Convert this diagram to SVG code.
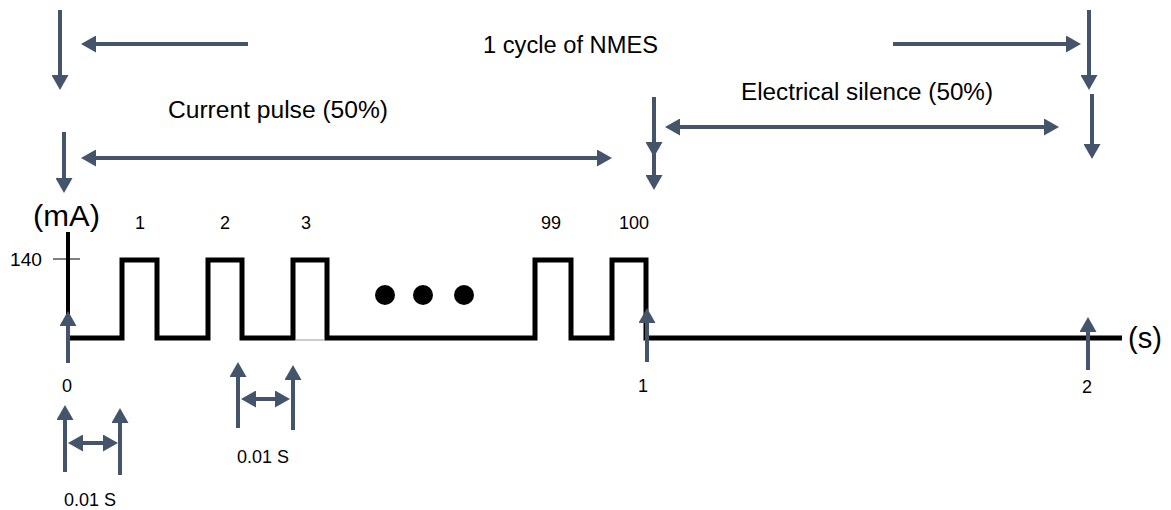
<svg xmlns="http://www.w3.org/2000/svg" width="1171" height="510" viewBox="0 0 1171 510">
<style>
.a{stroke:#44546A;stroke-width:4;fill:none}
.t{font-family:"Liberation Sans",Arial,sans-serif;fill:#000}
.big{font-size:23px}
.num{font-size:18px}
.unit{font-size:30px}
.w{stroke:#000;stroke-width:5;fill:none;stroke-linejoin:miter}
</style>
<defs>
<marker id="h" markerUnits="userSpaceOnUse" markerWidth="17" markerHeight="17" viewBox="0 0 15 17" refX="1" refY="8.5" orient="auto-start-reverse">
<path d="M0,0 L15,8.5 L0,17 z" fill="#44546A"/>
</marker>
</defs>
<rect width="1171" height="510" fill="#fff"/>
<g id="waveform">
<line x1="68" y1="232" x2="68" y2="338" stroke="#000" stroke-width="4"/>
<line x1="53" y1="259" x2="80" y2="259" stroke="#000" stroke-width="1"/>
<path class="w" d="M70,338 H122 V260 H157 V338 H208 V260 H242 V338 H293 V260 H327 V338 H535 V260 H571 V338 H612 V260 H646 V338 H1122"/>
<line x1="296" y1="340" x2="325" y2="340" stroke="#999" stroke-width="1"/>
<circle cx="385" cy="295" r="10" fill="#000"/>
<circle cx="423" cy="295" r="10" fill="#000"/>
<circle cx="464" cy="295" r="10" fill="#000"/>
</g>
<g id="connectors">
<line class="a" x1="60" y1="10" x2="60" y2="76" marker-end="url(#h)"/>
<line class="a" x1="248" y1="44" x2="95" y2="44" marker-end="url(#h)"/>
<line class="a" x1="893" y1="44" x2="1067" y2="44" marker-end="url(#h)"/>
<line class="a" x1="1089" y1="10" x2="1089" y2="76" marker-end="url(#h)"/>
<line class="a" x1="1092" y1="94" x2="1092" y2="145" marker-end="url(#h)"/>
<line class="a" x1="64" y1="132" x2="64" y2="179" marker-end="url(#h)"/>
<line class="a" x1="95" y1="158" x2="598" y2="158" marker-start="url(#h)" marker-end="url(#h)"/>
<polyline class="a" points="654,97 654,143 654,176" marker-mid="url(#h)" marker-end="url(#h)"/>
<line class="a" x1="679" y1="127" x2="1045" y2="127" marker-start="url(#h)" marker-end="url(#h)"/>
<line class="a" x1="68" y1="363" x2="68" y2="325" marker-end="url(#h)"/>
<line class="a" x1="647" y1="362" x2="647" y2="322" marker-end="url(#h)"/>
<line class="a" x1="1088" y1="370" x2="1088" y2="331" marker-end="url(#h)"/>
<line class="a" x1="65" y1="472" x2="65" y2="419" marker-end="url(#h)"/>
<line class="a" x1="120" y1="475" x2="120" y2="422" marker-end="url(#h)"/>
<line class="a" x1="82" y1="443" x2="104" y2="443" marker-start="url(#h)" marker-end="url(#h)"/>
<line class="a" x1="238" y1="428" x2="238" y2="376" marker-end="url(#h)"/>
<line class="a" x1="293" y1="430" x2="293" y2="379" marker-end="url(#h)"/>
<line class="a" x1="255" y1="399" x2="276" y2="399" marker-start="url(#h)" marker-end="url(#h)"/>
</g>
<g id="labels">
<text class="t big" x="483" y="53" textLength="175" lengthAdjust="spacingAndGlyphs">1 cycle of NMES</text>
<text class="t big" x="168" y="118" textLength="220" lengthAdjust="spacingAndGlyphs">Current pulse (50%)</text>
<text class="t big" x="741" y="100" textLength="252" lengthAdjust="spacingAndGlyphs">Electrical silence (50%)</text>
<text class="t unit" x="33" y="226" textLength="67" lengthAdjust="spacingAndGlyphs">(mA)</text>
<text class="t unit" x="1128" y="348" textLength="34" lengthAdjust="spacingAndGlyphs">(s)</text>
<text class="t num" x="10" y="266" textLength="32" lengthAdjust="spacingAndGlyphs">140</text>
<g text-anchor="middle">
<text class="t num" x="140" y="229">1</text>
<text class="t num" x="225" y="229">2</text>
<text class="t num" x="306" y="229">3</text>
<text class="t num" x="551" y="229">99</text>
<text class="t num" x="634" y="229">100</text>
<text class="t num" x="67" y="392">0</text>
<text class="t num" x="643" y="392">1</text>
<text class="t num" x="1087" y="393">2</text>
<text class="t num" x="90" y="506">0.01 S</text>
<text class="t num" x="263" y="463">0.01 S</text>
</g>
</g>
</svg>
